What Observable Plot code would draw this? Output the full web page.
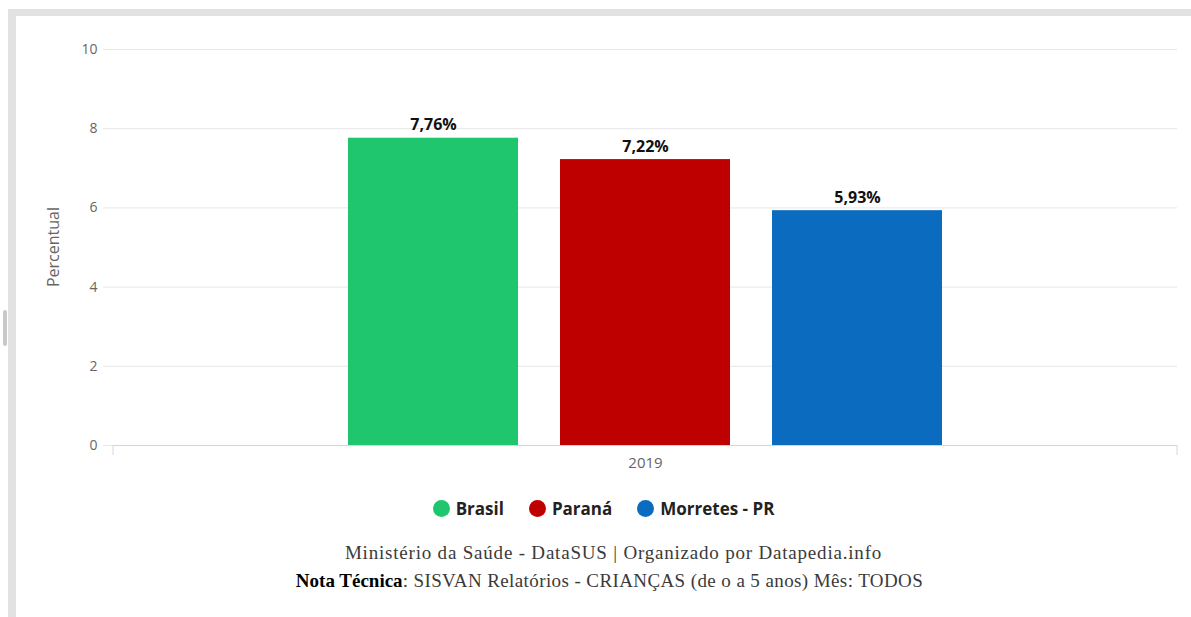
<!DOCTYPE html>
<html>
<head>
<meta charset="utf-8">
<script src="https://cdn.jsdelivr.net/npm/d3@7"></script>
<script src="https://cdn.jsdelivr.net/npm/@observablehq/plot@0.6"></script>
<style>
  html, body { margin: 0; padding: 0; background: #fff; width: 1191px; height: 617px; overflow: hidden; }
  #frame { position: absolute; left: 8px; top: 9px; right: 0; bottom: 0;
           border-top: 7px solid #e2e2e2; border-left: 8px solid #e2e2e2; background: #fff; }
  #scroll { position: absolute; left: 3px; top: 310px; width: 4px; height: 36px; background: #c8c8c8; border-radius: 2px; }
  #chart svg { display: block; }
  #legend { display: flex; justify-content: center; align-items: center; gap: 25px;
            margin-top: 12px; height: 20px; font-family: "Open Sans", Lato, sans-serif;
            font-weight: 700; font-size: 17px; color: #222; }
  #legend .item { display: flex; align-items: center; gap: 6px; }
  #legend .dot { width: 17px; height: 17px; border-radius: 50%; display: inline-block; }
  #caption { margin-top: 21px; padding-left: 12px; text-align: center; font-family: "Liberation Serif", "DejaVu Serif", serif;
             font-size: 19px; letter-spacing: 0.4px; line-height: 28px; color: #3a3a3a; }
  #cap1 { letter-spacing: 0.8px; padding-left: 8px; }
  #caption b { color: #000; letter-spacing: 0; }
</style>
</head>
<body>
<div id="scroll"></div>
<div id="frame">
  <div id="chart"></div>
  <div id="legend"></div>
  <div id="caption">
    <div id="cap1"></div>
    <div id="cap2"></div>
  </div>
</div>
<script>
const years = ["2019"];
const series = ["Brasil", "Paraná", "Morretes - PR"];
const values = [7.76, 7.22, 5.93];
const colors = ["#1fc66d", "#bf0000", "#0a6bbf"];
const yTicks = [0, 2, 4, 6, 8, 10];
const yLabel = "Percentual";
const caption1 = "Ministério da Saúde - DataSUS | Organizado por Datapedia.info";
const caption2Bold = "Nota Técnica";
const caption2 = ": SISVAN Relatórios - CRIANÇAS (de o a 5 anos) Mês: TODOS";

const data = series.map((s, i) => ({year: years[0], name: s, value: values[i]}));
const fmt = v => v.toFixed(2).replace(".", ",") + "%";

const W = 1175, H = 470, ML = 97, MR = 14;
const plot = Plot.plot({
  width: W, height: H,
  marginTop: 33, marginBottom: 41, marginLeft: ML, marginRight: MR,
  style: {fontFamily: "'Open Sans', Lato, sans-serif", background: "transparent"},
  fx: {domain: years, padding: 0, label: null},
  x: {domain: series, paddingInner: 0.2, paddingOuter: 1.1, axis: null},
  y: {domain: [0, 10], label: null},
  color: {domain: series, range: colors},
  marks: [
    Plot.gridY(yTicks, {stroke: "#e6e6e6", strokeOpacity: 1}),
    Plot.axisY(yTicks, {tickSize: 10, tickPadding: 6, stroke: "#e6e6e6", strokeOpacity: 1,
      fill: "#666", fontSize: 14, label: null}),
    Plot.axisFx({anchor: "bottom", tickSize: 0, tickPadding: 12, fontSize: 15, fill: "#666", label: null}),
    Plot.barY(data, {fx: "year", x: "name", y: "value", fill: "name"}),
    Plot.ruleY([0], {stroke: "#ccd6eb"}),
    Plot.text(data, {fx: "year", x: "name", y: "value", text: d => fmt(d.value),
      lineAnchor: "bottom", dy: -8, fontSize: 16, fontWeight: 700, fill: "#111"})
  ]
});
document.getElementById("chart").appendChild(plot);

const svg = d3.select(plot);
const yS = plot.scale("y");
const y0 = yS.apply(0);
const yMid = (yS.apply(yS.domain[0]) + yS.apply(yS.domain[1])) / 2;
// y axis title
svg.append("text").attr("transform", `translate(${ML - 58},${yMid}) rotate(-90)`)
  .attr("text-anchor", "middle").attr("dominant-baseline", "middle")
  .attr("font-size", 16).attr("fill", "#666").text(yLabel);
// end tick marks of the category axis at the frame edges
[ML, W - MR].forEach(xp => {
  svg.append("line").attr("x1", xp).attr("x2", xp).attr("y1", y0).attr("y2", y0 + 10)
    .attr("stroke", "#ccd6eb");
});

const legend = document.getElementById("legend");
series.forEach((s, i) => {
  const it = document.createElement("span");
  it.className = "item";
  it.innerHTML = `<span class="dot" style="background:${colors[i]}"></span><span>${s}</span>`;
  legend.appendChild(it);
});
document.getElementById("cap1").textContent = caption1;
document.getElementById("cap2").innerHTML = `<b>${caption2Bold}</b>${caption2}`;
</script>
</body>
</html>
